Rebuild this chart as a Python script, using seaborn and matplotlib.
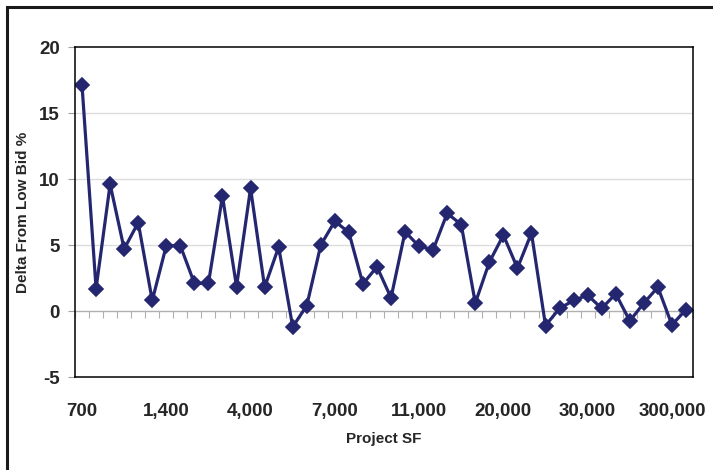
import matplotlib
matplotlib.use("Agg")
import matplotlib.pyplot as plt
from matplotlib.patches import Rectangle
import numpy as np
import pandas as pd
import seaborn as sns

# Bid spread per project, ordered by project size (square feet)
delta_pct = [
    17.1, 1.7, 9.6, 4.7, 6.7, 0.8, 4.95, 4.95, 2.1, 2.1,
    8.7, 1.85, 9.3, 1.8, 4.85, -1.2, 0.4, 5.0, 6.8, 5.95,
    2.05, 3.35, 1.0, 6.0, 4.9, 4.65, 7.4, 6.55, 0.6, 3.7,
    5.75, 3.25, 5.9, -1.1, 0.2, 0.8, 1.2, 0.2, 1.3, -0.75,
    0.6, 1.8, -1.05, 0.1,
]
# Size labels shown on the category axis (every sixth project)
size_labels = ["700", "1,400", "4,000", "7,000", "11,000", "20,000", "30,000", "300,000"]
label_step = 6
y_ticks = [-5, 0, 5, 10, 15, 20]

df = pd.DataFrame({"project": np.arange(len(delta_pct)), "delta": delta_pct})

sns.set_style("white")
plt.rcParams["font.family"] = ["Liberation Sans", "DejaVu Sans"]
plt.rcParams["font.weight"] = "bold"

W, H = 713, 470
fig = plt.figure(figsize=(W / 100, H / 100), dpi=100)
ax = fig.add_axes([75 / W, 1 - 377 / H, (693 - 75) / W, (377 - 47) / H])

navy = "#24276f"
sns.lineplot(data=df, x="project", y="delta", ax=ax, color=navy, linewidth=2.3,
             marker="D", markersize=6.8, markeredgecolor=navy, markeredgewidth=1.2)

ax.set_xlim(-0.5, len(delta_pct) - 0.5)
ax.set_ylim(-5, 20)

# horizontal gridlines
for v in (5, 10, 15):
    ax.axhline(v, color="#dcdcdc", lw=1.0, zorder=0)

for s in ax.spines.values():
    s.set_color("black")
    s.set_linewidth(1.1)

ax.set_yticks(y_ticks)
ax.set_yticklabels([str(v) for v in y_ticks], fontsize=13.5, fontweight="bold")
ax.tick_params(axis="y", direction="out", length=5, width=0.8, color="#a0a0a0", pad=6, left=True)

ax.set_xticks(np.arange(0, len(delta_pct), label_step))
ax.set_xticklabels(size_labels, fontsize=13.5, fontweight="bold")
ax.tick_params(axis="x", length=0, pad=19)

# category axis crossing at zero with tick marks between categories
zero_axis = ax.secondary_xaxis(5 / 25)
zero_axis.set_xticks(np.arange(-0.5, len(delta_pct), 1.0))
zero_axis.tick_params(axis="x", direction="out", length=5, width=0.8, color="#b0b0b0", labelbottom=False)
zero_axis.spines["bottom"].set_color("#b0b0b0")
zero_axis.spines["bottom"].set_linewidth(1.0)
zero_axis.set_xticklabels([])

ax.set_xlabel("Project SF", fontsize=11, fontweight="bold", labelpad=8)
ax.set_ylabel("Delta From Low Bid %", fontsize=11, fontweight="bold")
ax.yaxis.set_label_coords((30 - 75) / 618, 0.5)

# outer chart frame
fig.add_artist(Rectangle((7 / W, -0.1), 1.2, 1 - 7 / H + 0.1, transform=fig.transFigure,
                         fill=False, edgecolor="#1a1a1a", linewidth=2.2))

fig.savefig("out.png", dpi=100)
